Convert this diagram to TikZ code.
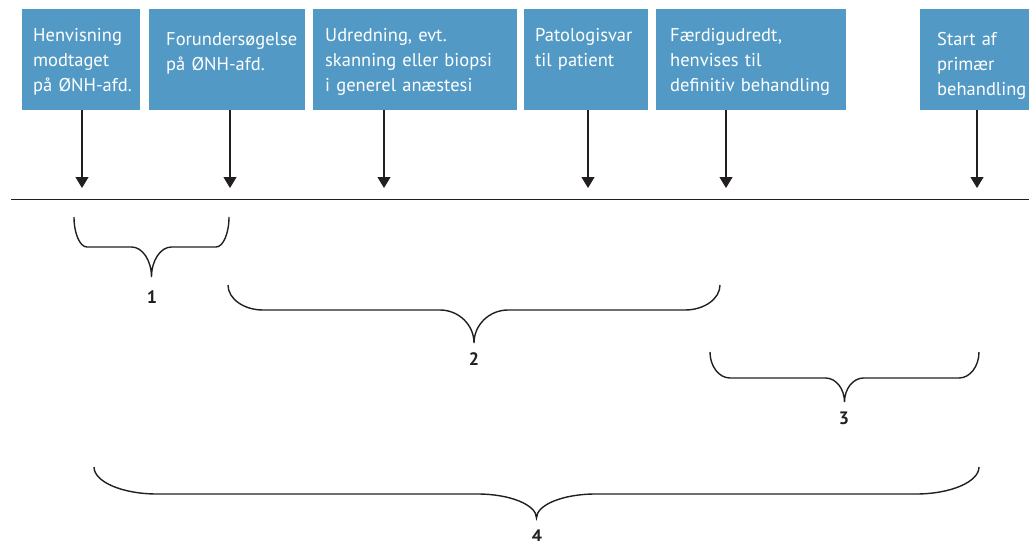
\documentclass[tikz,border=0pt]{standalone}
\usepackage{fontspec}
\setmainfont{PT Sans}
\usetikzlibrary{arrows.meta}
\definecolor{boxblue}{RGB}{82,154,197}
\definecolor{ink}{RGB}{35,31,32}
\newcommand\mybrace[7]{%
  \pgfmathsetmacro\bxm{(#1+#2)/2}%
  \draw[bracestyle] (#1,#3) .. controls (#1,{#3+0.55*(#4-#3)}) and ({#1+0.45*#6},#4) .. ({#1+#6},#4)
    -- ({\bxm-#7},#4) .. controls ({\bxm-0.45*#7},#4) and (\bxm,{#4+0.45*(#5-#4)}) .. (\bxm,#5)
    .. controls (\bxm,{#4+0.45*(#5-#4)}) and ({\bxm+0.45*#7},#4) .. ({\bxm+#7},#4)
    -- ({#2-#6},#4) .. controls ({#2-0.45*#6},#4) and (#2,{#3+0.55*(#4-#3)}) .. (#2,#3);}
\tikzset{
  bluebox/.style={fill=boxblue, draw=none, anchor=north west, inner sep=0pt, minimum height=101pt},
  boxtext/.style={text=white, anchor=base west, inner sep=0pt, text width=220pt, align=left,
    font=\fontsize{18.5}{25}\selectfont},
  tick/.style={draw=ink, line width=1.2pt, -{Triangle[width=13pt,length=11pt]}},
  timeline/.style={draw=ink, line width=1.3pt},
  bracestyle/.style={draw=ink, line width=1.4pt},
  numlabel/.style={text=ink, inner sep=0pt, font=\fontsize{18}{20}\selectfont\bfseries},
}
\begin{document}
\begin{tikzpicture}[x=1pt, y=-1pt]
\useasboundingbox (0,0) rectangle (1029,541);
% boxes
\node[bluebox, minimum width=118pt] (b1) at (22,9) {};
\node[bluebox, minimum width=156pt] (b2) at (149,9) {};
\node[bluebox, minimum width=204pt] (b3) at (313,9) {};
\node[bluebox, minimum width=124pt] (b4) at (524,9) {};
\node[bluebox, minimum width=190pt] (b5) at (656,9) {};
\node[bluebox, minimum width=130pt] (b6) at (920,9) {};
% texts
\node[boxtext] (t1) at (33,41) {Henvisning\\modtaget\\på ØNH-afd.};
\node[boxtext] (t2) at (166,45) {Forundersøgelse\\på ØNH-afd.};
\node[boxtext] (t3) at (325,41) {Udredning, evt.\\skanning eller biopsi\\i generel anæstesi};
\node[boxtext] (t4) at (535,41) {Patologisvar\\til patient};
\node[boxtext] (t5) at (670,41) {Færdigudredt,\\henvises til\\definitiv behandling};
\node[boxtext] (t6) at (937,45) {Start af\\primær\\behandling};
% timeline
\coordinate (tl0) at (11,199.5);
\coordinate (tl1) at (1029,199.5);
\draw[timeline] (tl0) -- (tl1);
% arrow tips
\coordinate (p1) at (82,188);
\coordinate (p2) at (230,188);
\coordinate (p3) at (384,188);
\coordinate (p4) at (588,188);
\coordinate (p5) at (726,188);
\coordinate (p6) at (977,188);
\draw[tick] (b1.south -| p1) -- (p1);
\draw[tick] (b2.south -| p2) -- (p2);
\draw[tick] (b3.south -| p3) -- (p3);
\draw[tick] (b4.south -| p4) -- (p4);
\draw[tick] (b5.south -| p5) -- (p5);
\draw[tick] (b6.south -| p6) -- (p6);
% braces
\mybrace{74}{229}{217}{247}{277}{13}{20}
\mybrace{228}{720}{285}{310}{343}{35}{34}
\mybrace{710}{979}{352}{378}{402}{20}{19}
\mybrace{94}{979}{467}{494}{518}{63}{59}
% labels
\node[numlabel] (n1) at (152,297) {1};
\node[numlabel] (n2) at (474,359) {2};
\node[numlabel] (n3) at (844,418) {3};
\node[numlabel, anchor=north] (n4) at (537,530) {4};
\end{tikzpicture}
\end{document}
